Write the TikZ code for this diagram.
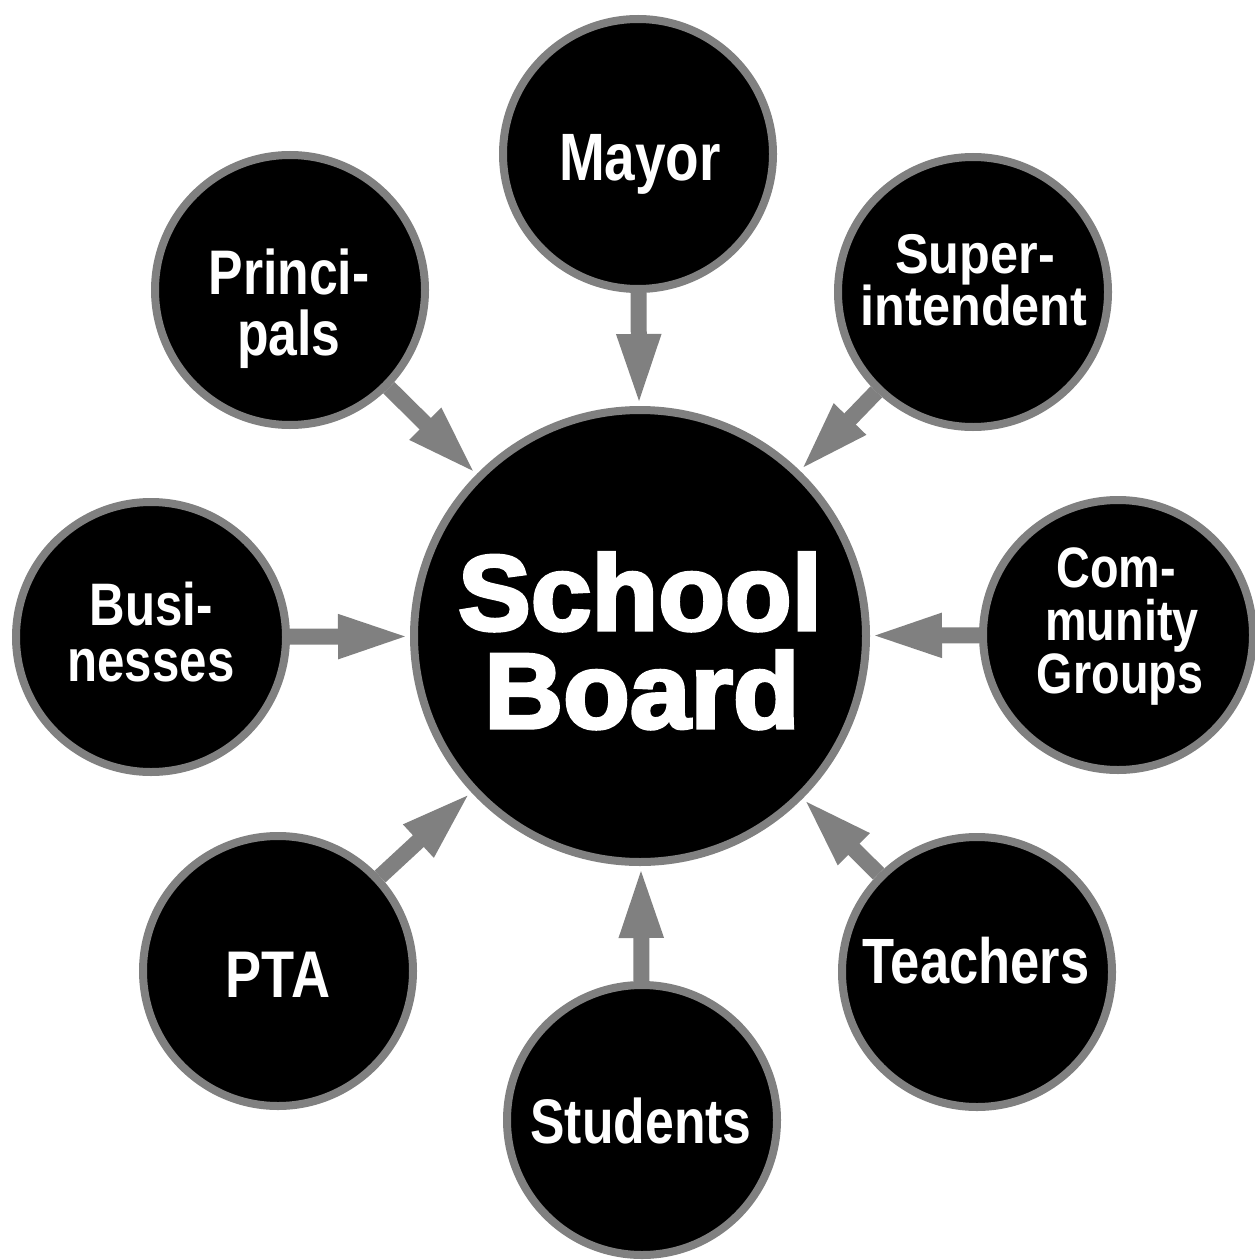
\documentclass[tikz,border=0pt]{standalone}
\usepackage{fontspec}
\setmainfont{Liberation Sans}
\newfontfamily\narrowfont[FakeStretch=0.82]{Liberation Sans}
\newfontfamily\semifont[FakeStretch=0.9]{Liberation Sans}
\newfontfamily\heavyfont[FakeBold=3.2,FakeStretch=1.02]{Liberation Sans}
\usetikzlibrary{arrows.meta}
\definecolor{ringgray}{RGB}{128,128,128}

\begin{document}
\begin{tikzpicture}[x=1pt,y=-1pt,
  ring/.style={circle, fill=black, draw=ringgray, line width=8pt, inner sep=0pt, minimum size=270pt},
  hub/.style={ring, minimum size=452pt},
  word/.style={text=white, anchor=base, inner sep=0pt},
  nw/.style={font=\narrowfont\bfseries\fontsize{#1}{#1}\selectfont},
  sw/.style={font=\semifont\bfseries\fontsize{#1}{#1}\selectfont},
  hv/.style={font=\heavyfont\bfseries\fontsize{#1}{#1}\selectfont},
  feed/.style={draw=ringgray, line width=16pt, -{Triangle[length=72pt,width=40pt]}}
]
\useasboundingbox (0,0) rectangle (1254,1260);

% circles
\node[hub]  (board) at (640,636) {};
\node[ring] (mayor) at (638,154) {};
\node[ring] (super) at (973,292) {};
\node[ring] (comm)  at (1118,635) {};
\node[ring] (teach) at (977,972) {};
\node[ring] (stud)  at (642,1120) {};
\node[ring] (pta)   at (278,971) {};
\node[ring] (bus)   at (151,637) {};
\node[ring] (princ) at (290,290) {};

% arrows into the board
\foreach \src in {mayor,super,comm,teach,stud,pta,bus,princ}
  \draw[feed] (\src) -- (board);

% labels
\node[word, hv=107] (boardT1) at (640,630) {School};
\node[word, hv=107] (boardT2) at (642,728) {Board};

\node[word, nw=67] (mayorT) at (640,181) {Mayor};
\node[word, sw=56] (superT1) at (975,273) {Super-};
\node[word, sw=56] (superT2) at (974,325) {intendent};
\node[word, nw=57] (commT1) at (1116,587) {Com-};
\node[word, nw=57] (commT2) at (1122,640) {munity};
\node[word, nw=57] (commT3) at (1120,693) {Groups};
\node[word, nw=64] (teachT) at (976,983) {Teachers};
\node[word, nw=63] (studT) at (641,1143) {Students};
\node[word, nw=66] (ptaT) at (278,997) {PTA};
\node[word, nw=60] (busT1) at (151,625) {Busi-};
\node[word, nw=60] (busT2) at (151,681) {nesses};
\node[word, nw=63] (princT1) at (289,294) {Princi-};
\node[word, nw=63] (princT2) at (289,355) {pals};
\end{tikzpicture}
\end{document}
